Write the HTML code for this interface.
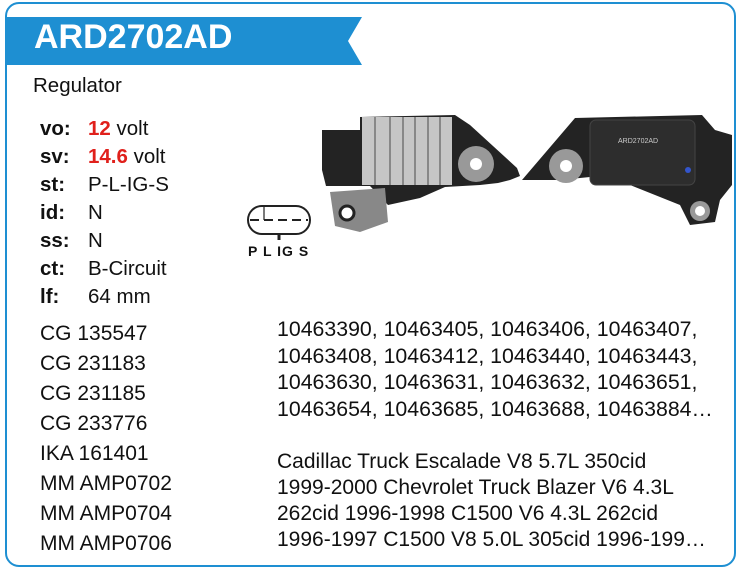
<!DOCTYPE html>
<html><head><style>
body{margin:0;width:740px;height:576px;background:#fff;font-family:"Liberation Sans",Arial,sans-serif;position:relative;overflow:hidden}
.card{position:absolute;left:5px;top:2px;width:727px;height:561px;border:2px solid #1e8fd2;border-radius:14px}
.t{position:absolute;white-space:nowrap;color:#111;font-size:21px}
.b{font-weight:bold}
.r{color:#e0201b;font-weight:bold}
</style></head><body>
<div class="card"></div>
<svg style="position:absolute;left:0;top:0" width="740" height="576">
<polygon points="6,17 362,17 348,41 362,65 6,65" fill="#1e8fd2"/>
<rect x="248" y="206" width="62" height="28" rx="14" fill="#fff" stroke="#222" stroke-width="2"/>
<line x1="264" y1="206" x2="264" y2="220" stroke="#222" stroke-width="1.2"/>
<line x1="250" y1="220" x2="308" y2="220" stroke="#222" stroke-width="2" stroke-dasharray="9,5"/>
<line x1="279" y1="234" x2="279" y2="240" stroke="#222" stroke-width="3"/>
<polygon points="322,130 360,130 360,117 455,115 470,125 517,168 520,176 510,180 498,183 480,185 445,187 420,198 388,205 370,186 326,186 322,170" fill="#232323"/>
<polygon points="330,192 385,188 388,222 360,232 335,226" fill="#888"/>
<circle cx="347" cy="213" r="7" fill="#fff" stroke="#222" stroke-width="3"/>
<rect x="362" y="117" width="90" height="68" fill="#c6c6c6"/>
<g stroke="#888" stroke-width="2"><line x1="375" y1="117" x2="375" y2="185"/><line x1="390" y1="117" x2="390" y2="185"/><line x1="403" y1="117" x2="403" y2="185"/><line x1="415" y1="117" x2="415" y2="185"/><line x1="428" y1="117" x2="428" y2="185"/><line x1="440" y1="117" x2="440" y2="185"/></g>
<circle cx="476" cy="164" r="18" fill="#999"/><circle cx="476" cy="164" r="6" fill="#fff"/>
<polygon points="522,180 575,118 702,115 715,130 732,135 732,185 720,200 715,222 690,225 680,205 630,185 600,176 560,180" fill="#232323"/>
<rect x="590" y="120" width="105" height="65" rx="6" fill="#2d2d2d" stroke="#444"/>
<text x="618" y="143" font-size="7" fill="#ccc" font-family="Liberation Sans">ARD2702AD</text>
<circle cx="566" cy="166" r="17" fill="#999"/><circle cx="566" cy="166" r="6" fill="#fff"/>
<circle cx="700" cy="211" r="10" fill="#999"/><circle cx="700" cy="211" r="5" fill="#fff"/>
<circle cx="688" cy="170" r="3" fill="#3355cc"/>
</svg>
<div class="t b" style="left:34px;top:18px;font-size:34px;color:#fff">ARD2702AD</div>
<div class="t" style="left:33px;top:74px;font-size:20.5px">Regulator</div>
<div class="t b" style="left:248px;top:243px;font-size:14px;letter-spacing:1px">P L IG S</div>
<div class="t b" style="left:40px;top:115px;line-height:28px;font-size:20.5px">vo:<br>sv:<br>st:<br>id:<br>ss:<br>ct:<br>lf:</div>
<div class="t" style="left:88px;top:115px;line-height:28px;font-size:20.5px"><span class="r">12</span> volt<br><span class="r">14.6</span> volt<br>P-L-IG-S<br>N<br>N<br>B-Circuit<br>64 mm</div>
<div class="t" style="left:40px;top:319px;line-height:30px;font-size:21px">CG 135547<br>CG 231183<br>CG 231185<br>CG 233776<br>IKA 161401<br>MM AMP0702<br>MM AMP0704<br>MM AMP0706</div>
<div class="t" style="left:277px;top:316px;line-height:26.7px;font-size:21.3px">10463390, 10463405, 10463406, 10463407,<br>10463408, 10463412, 10463440, 10463443,<br>10463630, 10463631, 10463632, 10463651,<br>10463654, 10463685, 10463688, 10463884…</div>
<div class="t" style="left:277px;top:449px;line-height:26px;font-size:21px">Cadillac Truck Escalade V8 5.7L 350cid<br>1999-2000 Chevrolet Truck Blazer V6 4.3L<br>262cid 1996-1998 C1500 V6 4.3L 262cid<br>1996-1997 C1500 V8 5.0L 305cid 1996-199…</div>
</body></html>
